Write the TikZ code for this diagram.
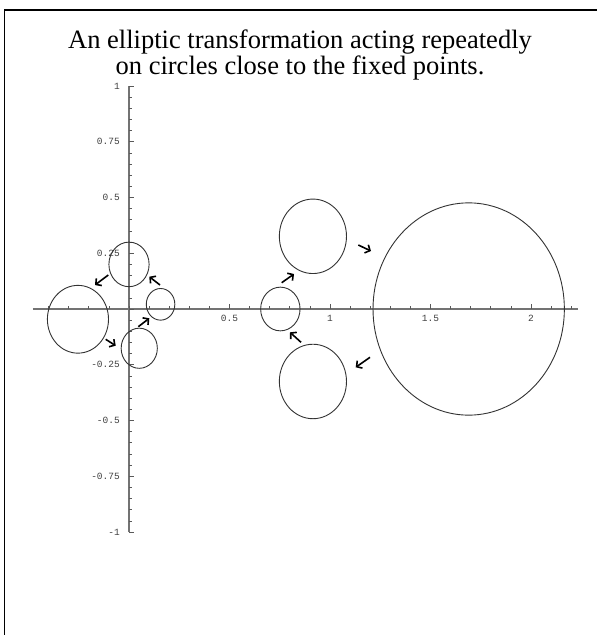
\documentclass[tikz,border=0pt]{standalone}
\usepackage{fontspec}
\setmainfont{Liberation Serif}
\newfontfamily\tickfont{Liberation Mono}
\usetikzlibrary{arrows.meta}

\begin{document}
\begin{tikzpicture}[
                x=1pt, y=-1pt,
                frame/.style={line width=1.6pt, black},
                axis/.style={line width=1.2pt, black!55},
                tick/.style={line width=0.7pt, black!65},
                ticklabel/.style={font=\tickfont\fontsize{9.5}{9.5}\selectfont, text=black!75, inner sep=0pt},
                titletext/.style={font=\fontsize{26.5}{26.5}\selectfont, inner sep=0pt, anchor=base},
                orbit/.style={line width=0.9pt, black!80},
                move/.style={-{Straight Barb[length=4pt, width=9pt]}, line width=1.6pt},
            ]
            \useasboundingbox (0,0) rectangle (597,635);
            \fill[white] (0,0) rectangle (597,635);
            \draw[frame] (4.5,635) -- (4.5,10) -- (597,10);

            \node[titletext] (title1) at (300,48) {An elliptic transformation acting repeatedly};
            \node[titletext] (title2) at (300,74) {on circles close to the fixed points.};

            % plot in data units
            \begin{scope}[shift={(129,309)}, x=201pt, y=223pt]
                \draw[axis] (-0.478,0) -- (2.234,0);
                \draw[axis] (0,-1) -- (0,1);
                \foreach \t in {-4,...,22} \draw[tick] (\t/10,0) -- ++(0,3pt);
                \foreach \t in {-20,...,20} \draw[tick] (0,\t/20) -- ++(3pt,0);
                \foreach \t in {-4,...,4} \draw[tick] (0,\t/4) -- ++(5pt,0);
                \foreach \v in {0.5,1,1.5,2} \draw[tick] (\v,0) -- ++(0,5pt);
                \foreach \v/\l in {0.5/0.5, 1/1, 1.5/1.5, 2/2}
                    \node[ticklabel] at ([yshift=-9.5pt]\v,0) {\l};
                \foreach \v/\l in {1/1, 0.75/0.75, 0.5/0.5, 0.25/0.25, -0.25/-0.25, -0.5/-0.5, -0.75/-0.75, -1/-1}
                    \node[ticklabel, anchor=east] at ([xshift=-9pt]0,\v) {\l};

                \draw[orbit] (1.69,0) ellipse [x radius=0.476*201pt, y radius=0.476*223pt];
                \draw[orbit] (0.915,0.326) ellipse [x radius=0.167*201pt, y radius=0.167*223pt];
                \draw[orbit] (0.915,-0.325) ellipse [x radius=0.167*201pt, y radius=0.167*223pt];
                \draw[orbit] (0.753,0) ellipse [x radius=0.098*201pt, y radius=0.098*223pt];
                \draw[orbit] (-0.254,-0.046) ellipse [x radius=0.152*201pt, y radius=0.152*223pt];
                \draw[orbit] (0,0.2) ellipse [x radius=0.1*201pt, y radius=0.1*223pt];
                \draw[orbit] (0.157,0.021) ellipse [x radius=0.071*201pt, y radius=0.071*223pt];
                \draw[orbit] (0.051,-0.176) ellipse [x radius=0.09*201pt, y radius=0.09*223pt];
            \end{scope}

            % arrows between the circles
            \draw[move] (108.3,275) -- (95,285);
            \draw[move] (160,285) -- (149.3,276.7);
            \draw[move] (138.3,326.7) -- (149.3,318.3);
            \draw[move] (105.7,339.3) -- (115.7,345.7);
            \draw[move] (281.7,282.7) -- (294,274);
            \draw[move] (358.3,245) -- (371,251);
            \draw[move] (370,357.3) -- (355.7,367.3);
            \draw[move] (301,342.3) -- (290,332.3);
        \end{tikzpicture}
\end{document}
